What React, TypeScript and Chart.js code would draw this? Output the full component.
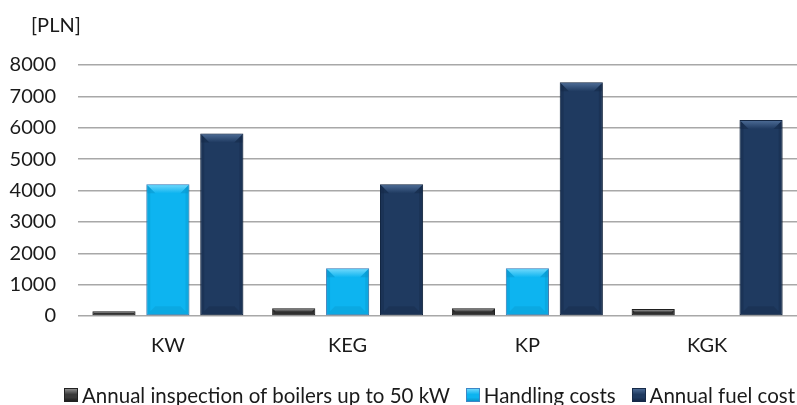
import React, { useEffect, useRef } from "react";
import { Chart, registerables } from "chart.js";

Chart.register(...registerables);

// Cost categories (heating variants) and series values in PLN
const categories = ["KW", "KEG", "KP", "KGK"];
const seriesNames = [
  "Annual inspection of boilers up to 50 kW",
  "Handling costs",
  "Annual fuel cost",
];
const inspection = [150, 250, 250, 220];
const handling = [4200, 1520, 1520, 0];
const fuel = [5820, 4200, 7450, 6250];
const yTickValues = [0, 1000, 2000, 3000, 4000, 5000, 6000, 7000, 8000];
const unitLabel = "[PLN]";

const FONT = "Lato, 'Open Sans', sans-serif";

// Per-series palette: base fill, outline, bevel highlight, bevel shade
const FILL = ["#3a3a3a", "#0db4f0", "#1f3a60"];
const BORDER = ["#222222", "#3d86c6", "#162a48"];
const LIGHT = ["#8c8c8c", "#6ad6fb", "#4a6993"];
const DARK = ["#1e1e1e", "#0a94c9", "#142746"];

function poly(ctx: CanvasRenderingContext2D, pts: number[][], color: any) {
  ctx.beginPath();
  ctx.moveTo(pts[0][0], pts[0][1]);
  for (let i = 1; i < pts.length; i++) ctx.lineTo(pts[i][0], pts[i][1]);
  ctx.closePath();
  ctx.fillStyle = color;
  ctx.fill();
}

// Soft shadow behind the bars
const shadowPlugin = {
  id: "barShadow",
  beforeDatasetsDraw(chart: any) {
    const ctx = chart.ctx;
    ctx.save();
    ctx.shadowColor = "rgba(0,0,0,0.25)";
    ctx.shadowBlur = 4;
    ctx.shadowOffsetX = 1;
    ctx.shadowOffsetY = 1;
  },
  afterDatasetsDraw(chart: any) {
    chart.ctx.restore();
  },
};

// Bevelled faces on every bar, placed from the bar elements' own geometry
const bevelPlugin = {
  id: "bevel",
  afterDatasetsDraw(chart: any) {
    const ctx = chart.ctx as CanvasRenderingContext2D;
    chart.data.datasets.forEach((_ds: any, di: number) => {
      const meta = chart.getDatasetMeta(di);
      if (meta.hidden) return;
      meta.data.forEach((bar: any) => {
        const { x, y, base, width } = bar.getProps(["x", "y", "base", "width"], true);
        if (base - y < 1) return;
        const l = x - width / 2 + 1;
        const r = x + width / 2 - 1;
        const t = y + 1;
        const b = base - 1;
        const bv = Math.max(0, Math.min(8, (b - t) / 2, (r - l) / 2));
        const sb = Math.min(3, bv);
        ctx.save();
        // thin side faces
        ctx.globalAlpha = 0.35;
        poly(ctx, [[l, t], [l + sb, t + sb], [l + sb, b - sb], [l, b]], DARK[di]);
        poly(ctx, [[r, t], [r - sb, t + sb], [r - sb, b - sb], [r, b]], DARK[di]);
        ctx.globalAlpha = 1;
        // top face (highlight) with darker mitred corners
        const g = ctx.createLinearGradient(0, t, 0, t + bv);
        g.addColorStop(0, LIGHT[di]);
        g.addColorStop(1, FILL[di]);
        poly(ctx, [[l, t], [r, t], [r - bv, t + bv], [l + bv, t + bv]], g);
        ctx.globalAlpha = 0.5;
        poly(ctx, [[l, t], [l + bv, t + bv], [l, t + bv]], DARK[di]);
        poly(ctx, [[r, t], [r - bv, t + bv], [r, t + bv]], DARK[di]);
        // bottom face (shade)
        ctx.globalAlpha = 0.35;
        poly(ctx, [[l, b], [r, b], [r - bv, b - bv], [l + bv, b - bv]], DARK[di]);
        ctx.restore();
      });
    });
  },
};

// Unit caption above the value axis
const unitPlugin = {
  id: "unitLabel",
  afterDraw(chart: any) {
    const ctx = chart.ctx as CanvasRenderingContext2D;
    ctx.save();
    ctx.font = `20px ${FONT}`;
    ctx.fillStyle = "#1a1a1a";
    ctx.textAlign = "left";
    ctx.textBaseline = "middle";
    ctx.fillText(unitLabel, 31, 26);
    ctx.restore();
  },
};

export default function App() {
  const canvasRef = useRef<HTMLCanvasElement | null>(null);

  useEffect(() => {
    document.body.style.margin = "0";
    const canvas = canvasRef.current;
    if (!canvas) return;
    const values = [inspection, handling, fuel];
    const chart = new Chart(canvas, {
      type: "bar",
      data: {
        labels: categories,
        datasets: seriesNames.map((name, i) => ({
          label: name,
          data: values[i],
          backgroundColor: FILL[i],
          borderColor: BORDER[i],
          borderWidth: 1,
          borderSkipped: false,
          categoryPercentage: 0.9,
          barPercentage: 0.8,
        })),
      },
      options: {
        animation: false,
        responsive: false,
        devicePixelRatio: 1,
        layout: { padding: { top: 65, bottom: 49, left: 0, right: 0 } },
        plugins: {
          legend: { display: false },
          tooltip: { enabled: false },
          title: { display: false },
        },
        scales: {
          x: {
            grid: { display: false },
            border: { display: false },
            ticks: {
              color: "#1a1a1a",
              font: { family: FONT, size: 20 },
              padding: 10,
            },
            afterFit: (scale: any) => {
              scale.height = 40;
            },
          },
          y: {
            min: 0,
            max: 8000,
            border: { display: false },
            grid: { color: "#a8a8a8", lineWidth: 1.5, drawTicks: false },
            afterBuildTicks: (scale: any) => {
              scale.ticks = yTickValues.map((v) => ({ value: v }));
            },
            ticks: {
              color: "#1a1a1a",
              font: { family: FONT, size: 20 },
              padding: 22,
              callback: (v: any) => String(v),
            },
            afterFit: (scale: any) => {
              scale.width = 78;
            },
          },
        },
      },
      plugins: [shadowPlugin, bevelPlugin, unitPlugin],
    });
    return () => chart.destroy();
  }, []);

  const swatch = (i: number): React.CSSProperties => ({
    width: 12,
    height: 12,
    border: `1px solid ${BORDER[i]}`,
    background: `linear-gradient(180deg, ${LIGHT[i]} 0%, ${FILL[i]} 45%, ${FILL[i]} 70%, ${DARK[i]} 100%)`,
    marginRight: 4,
    flex: "0 0 auto",
  });

  return (
    <div style={{ position: "relative", width: 797, height: 405, background: "#fff" }}>
      <canvas ref={canvasRef} width={797} height={405} style={{ display: "block" }} />
      <div
        style={{
          position: "absolute",
          left: 64,
          width: 731,
          top: 384,
          height: 22,
          display: "flex",
          alignItems: "center",
          justifyContent: "space-between",
          fontFamily: FONT,
          fontSize: 20.5,
          color: "#1a1a1a",
          whiteSpace: "nowrap",
        }}
      >
        {seriesNames.map((name, i) => (
          <div key={name} style={{ display: "flex", alignItems: "center" }}>
            <span style={swatch(i)} />
            <span>{name}</span>
          </div>
        ))}
      </div>
    </div>
  );
}
